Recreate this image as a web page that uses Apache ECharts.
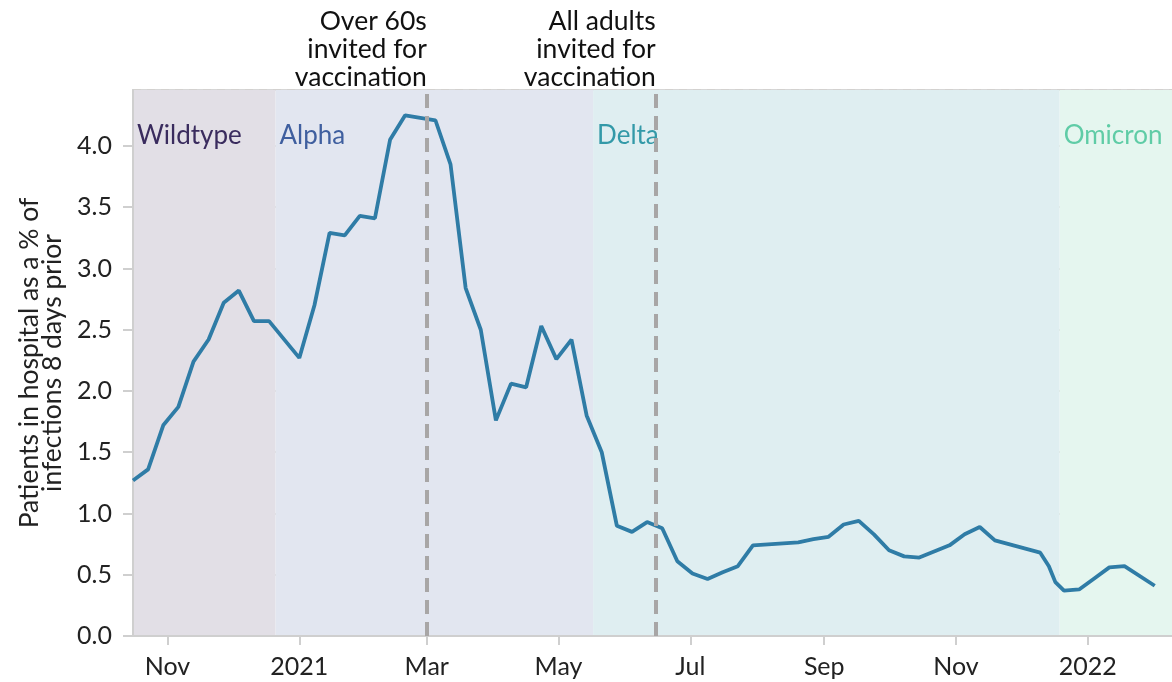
<!DOCTYPE html>
<html>
<head>
<meta charset="utf-8">
<script src="https://cdn.jsdelivr.net/npm/echarts@6/dist/echarts.min.js"></script>
<style>
html,body{margin:0;padding:0;background:#fff;}
#chart{width:1172px;height:682px;}
</style>
</head>
<body>
<div id="chart"></div>
<script>
// ---- data ----
const dates = [
  '2020-10-16','2020-10-23','2020-10-30','2020-11-06','2020-11-13','2020-11-20','2020-11-27',
  '2020-12-04','2020-12-11','2020-12-18','2021-01-01','2021-01-08','2021-01-15','2021-01-22',
  '2021-01-29','2021-02-05','2021-02-12','2021-02-19','2021-03-05','2021-03-12','2021-03-19',
  '2021-03-26','2021-04-02','2021-04-09','2021-04-16','2021-04-23','2021-04-30','2021-05-07',
  '2021-05-14','2021-05-21','2021-05-28','2021-06-04','2021-06-11','2021-06-18','2021-06-25',
  '2021-07-02','2021-07-09','2021-07-16','2021-07-23','2021-07-30','2021-08-20','2021-08-27',
  '2021-09-03','2021-09-10','2021-09-17','2021-09-24','2021-10-01','2021-10-08','2021-10-15',
  '2021-10-29','2021-11-05','2021-11-12','2021-11-19','2021-12-10','2021-12-14','2021-12-17',
  '2021-12-21','2021-12-28','2022-01-04','2022-01-11','2022-01-18','2022-02-01'
];
const values = [
  1.27,1.36,1.72,1.87,2.24,2.42,2.72,
  2.82,2.57,2.57,2.27,2.70,3.29,3.27,
  3.43,3.41,4.05,4.25,4.21,3.85,2.84,
  2.50,1.76,2.06,2.03,2.53,2.26,2.42,
  1.80,1.50,0.90,0.85,0.93,0.88,0.61,
  0.51,0.465,0.52,0.57,0.74,0.765,0.79,
  0.81,0.91,0.94,0.83,0.70,0.65,0.64,
  0.74,0.83,0.89,0.78,0.68,0.57,0.44,
  0.37,0.38,0.47,0.56,0.57,0.41
];
const variantNames  = ['Wildtype','Alpha','Delta','Omicron'];
const variantStarts = ['2020-10-15','2020-12-21','2021-05-17','2021-12-19'];
const variantEnds   = ['2020-12-21','2021-05-17','2021-12-19','2022-02-10'];
const variantFill   = ['#e2dfe6','#e2e6f0','#dfeef1','#e5f6ef'];
const variantText   = ['#3a2c5e','#3f5f9f','#3399a8','#5fcca6'];
const eventDates  = ['2021-03-01','2021-06-15'];
const eventLabels = ['Over 60s\ninvited for\nvaccination','All adults\ninvited for\nvaccination'];
const xMin = '2020-10-16';
const xMax = '2022-02-09';
const yTitle = 'Patients in hospital as a % of\ninfections 8 days prior';

const FONT = 'Lato';
const DAY = 86400000;
const chart = echarts.init(document.getElementById('chart'));

const bandData = variantNames.map((n, i) => [
  {
    name: n,
    xAxis: variantStarts[i],
    itemStyle: { color: variantFill[i], opacity: 1 },
    label: { color: variantText[i] }
  },
  { xAxis: variantEnds[i] }
]);

const eventData = eventDates.map((d, i) => ({
  xAxis: d,
  label: { formatter: eventLabels[i] }
}));

chart.setOption({
  animation: false,
  textStyle: { fontFamily: FONT },
  grid: { left: 133, right: -2, top: 90, bottom: 46, containLabel: false,
          show: true, borderColor: '#d6d6d6', borderWidth: 2, backgroundColor: 'transparent' },
  xAxis: {
    type: 'time',
    min: xMin,
    max: xMax,
    minInterval: 58 * DAY,
    maxInterval: 63 * DAY,
    z: 1,
    axisLine: { show: true, lineStyle: { color: '#cfcfcf', width: 2 } },
    axisTick: { show: true, length: 9, lineStyle: { color: '#cfcfcf', width: 2 } },
    axisLabel: {
      fontFamily: FONT, fontSize: 25, color: '#222', margin: 18,
      showMinLabel: false, showMaxLabel: false,
      formatter: { year: '{yyyy}', month: '{MMM}', day: '{MMM}' }
    },
    splitLine: { show: true, lineStyle: { color: '#d3d1cf', width: 2, type: [8, 6] } }
  },
  yAxis: {
    type: 'value',
    min: 0,
    max: 4.457,
    interval: 0.5,
    z: 1,
    name: yTitle,
    nameLocation: 'middle',
    nameGap: 66,
    nameTextStyle: { fontFamily: FONT, fontSize: 26.5, color: '#222', lineHeight: 23 },
    axisLine: { show: true, lineStyle: { color: '#cfcfcf', width: 2 } },
    axisTick: { show: true, length: 10, lineStyle: { color: '#cfcfcf', width: 2 } },
    axisLabel: {
      fontFamily: FONT, fontSize: 25, color: '#222', margin: 21,
      showMaxLabel: false,
      formatter: v => v.toFixed(1)
    },
    splitLine: { show: true, lineStyle: { color: '#d3d1cf', width: 2, type: [8, 6] } }
  },
  series: [
    {
      type: 'line',
      name: 'bands',
      data: [],
      z: 0,
      silent: true,
      markArea: {
        silent: true,
        label: {
          show: true,
          position: 'insideTopLeft',
          fontFamily: FONT,
          fontSize: 26,
          distance: 0,
          offset: [4, 33]
        },
        data: bandData
      }
    },
    {
      type: 'line',
      name: 'ratio',
      data: dates.map((d, i) => [d, values[i]]),
      z: 3,
      showSymbol: false,
      symbol: 'none',
      lineStyle: { color: '#2f7ca6', width: 3.8 },
      itemStyle: { color: '#2f7ca6' },
      markLine: {
        silent: true,
        symbol: 'none',
        z: 4,
        lineStyle: { color: '#a8a6a6', width: 4, type: [14, 8] },
        label: {
          show: true,
          position: 'end',
          align: 'right',
          verticalAlign: 'bottom',
          distance: -1,
          fontFamily: FONT,
          fontSize: 26.5,
          lineHeight: 28,
          color: '#111'
        },
        data: eventData
      }
    }
  ]
});
</script>
</body>
</html>
